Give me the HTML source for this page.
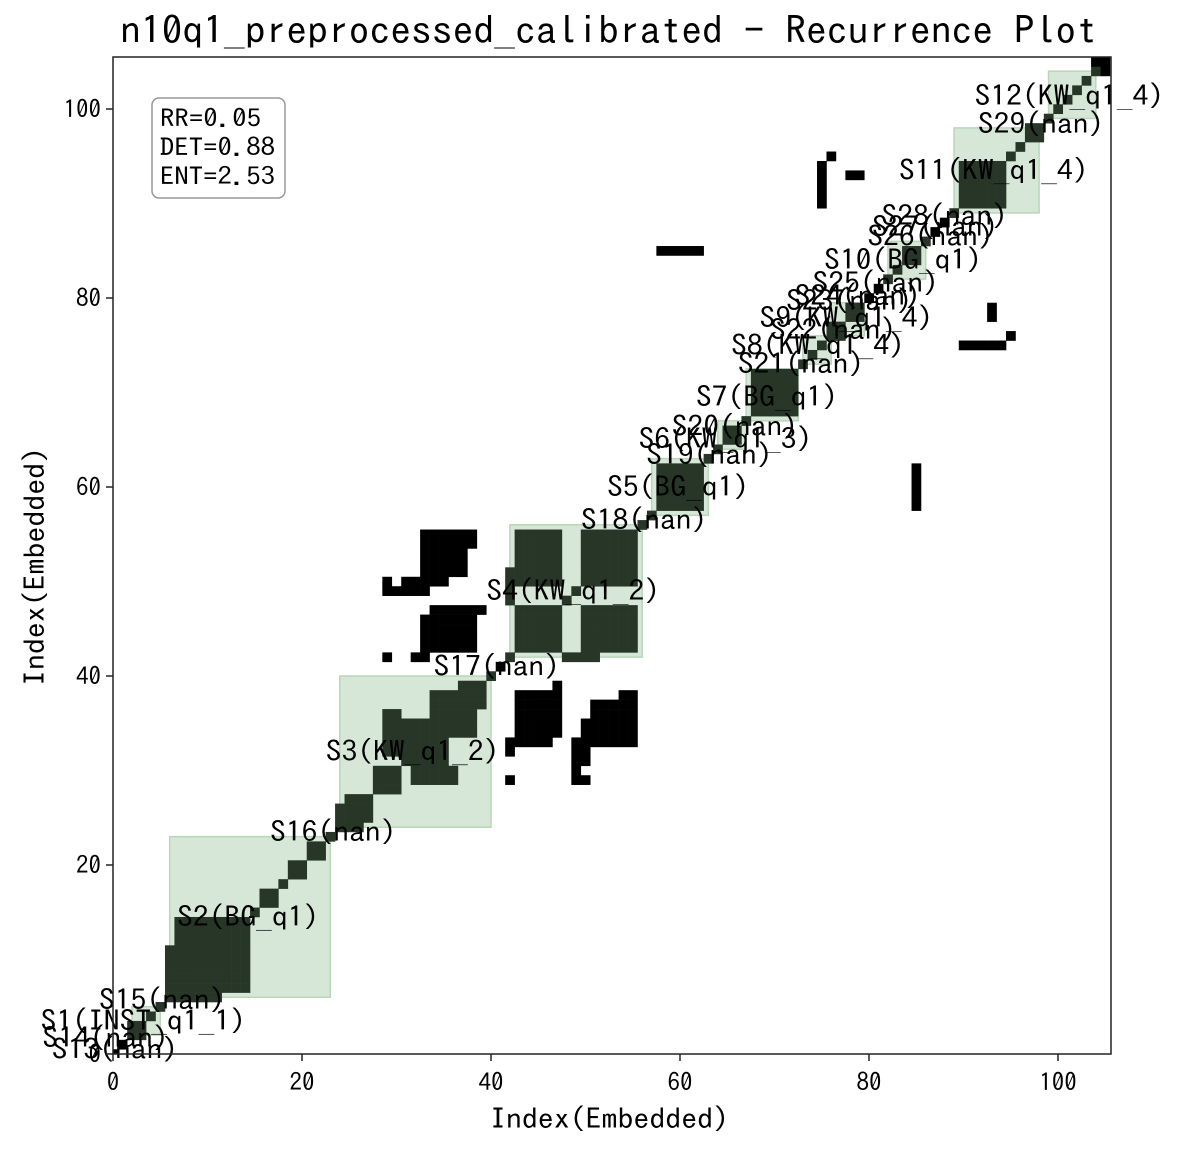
<!DOCTYPE html>
<html><head><meta charset="utf-8"><style>
body{margin:0;background:#fff;}
svg text{font-family:"IPAGothic","WenQuanYi Zen Hei","Liberation Sans",sans-serif;}
</style></head><body>
<svg id="chart" width="1187" height="1149" viewBox="0 0 1187 1149">
<rect width="1187" height="1149" fill="#fff"/>
<g id="boxes"></g>
<g id="cells"></g>
<g id="labels"></g>
<rect x="113" y="57" width="998" height="997" fill="none" stroke="#222" stroke-width="1.5"/>
<g id="ticks"></g>
<text x="120" y="44" font-size="38" textLength="977" lengthAdjust="spacingAndGlyphs">n10q1_preprocessed_calibrated - Recurrence Plot</text>
<text x="490" y="1129" font-size="28" textLength="239" lengthAdjust="spacingAndGlyphs">Index(Embedded)</text>
<text transform="translate(45,686) rotate(-90)" font-size="28" textLength="239" lengthAdjust="spacingAndGlyphs">Index(Embedded)</text>
<g>
<rect x="152" y="98" width="133" height="100" rx="7" fill="#fff" stroke="#999" stroke-width="1.5"/>
<text x="160" y="127" font-size="25" textLength="101" lengthAdjust="spacingAndGlyphs">RR=0.05</text>
<text x="160" y="156" font-size="25" textLength="115" lengthAdjust="spacingAndGlyphs">DET=0.88</text>
<text x="160" y="185" font-size="25" textLength="115" lengthAdjust="spacingAndGlyphs">ENT=2.53</text>
</g>
</svg>
<script>
const N = 106;
const diagBlocks = [[2,3],[7,14],[16,17],[19,20],[21,22],[25,27],[28,30],[31,35],[34,38],[37,39],[43,47],[50,55],[58,62],[65,66],[68,72],[76,77],[78,79],[84,85],[90,94],[97,98],[104,105]];
const offRects = [[6,6,7,11],[24,24,25,26],[32,36,29,30],[43,47,50,55],[33,38,54,55],[33,37,51,53],[29,29,49,50],[30,33,49,49],[31,35,50,50],[34,39,47,47],[33,38,43,46],[29,29,42,42],[32,33,42,42],[42,42,48,51],[85,85,58,62],[90,94,75,75],[95,95,76,76],[93,93,78,79]];
const segBoxes = [[2,5],[6,23],[24,40],[42,56],[57,63],[64,67],[67,72.5],[73,76],[76,79.5],[82,86],[89,98],[99,104]];
const labelText = ["S13(nan)","S14(nan)","S1(INST_q1_1)","S15(nan)","S2(BG_q1)","S16(nan)","S3(KW_q1_2)","S17(nan)","S4(KW_q1_2)","S18(nan)","S5(BG_q1)","S19(nan)","S6(KW_q1_3)","S20(nan)","S7(BG_q1)","S21(nan)","S8(KW_q1_4)","S22(nan)","S9(KW_q1_4)","S23(nan)","S24(nan)","S25(nan)","S10(BG_q1)","S26(nan)","S27(nan)","S28(nan)","S11(KW_q1_4)","S29(nan)","S12(KW_q1_4)"];
const labelX = [0.2,-0.8,3.2,5.2,14.3,23.3,31.7,40.6,48.7,56.2,59.8,63.1,64.8,65.8,69.2,72.8,74.6,76.2,77.6,77.9,78.8,80.7,83.6,86.5,87.0,88.0,93.2,98.2,101.2];
const labelY = [0.5,1.7,3.5,5.7,14.5,23.5,32.0,41.0,49.0,56.5,60.0,63.4,65.1,66.4,69.5,73.0,75.0,76.6,77.9,79.7,80.2,81.6,84.0,86.5,87.5,88.7,93.5,98.4,101.4];
const tickVals = [0,20,40,60,80,100];

const S = 9.45, X0 = 113, Y0 = 1054;
const sx = v => X0 + v*S;
const sy = v => Y0 - v*S;
const NS = "http://www.w3.org/2000/svg";
function mk(tag, attrs, parent){const e=document.createElementNS(NS,tag);for(const k in attrs)e.setAttribute(k,attrs[k]);parent.appendChild(e);return e;}

const M = [];
for(let i=0;i<N;i++){M.push(new Array(N).fill(0));M[i][i]=1;}
diagBlocks.forEach(b=>{for(let i=b[0];i<=b[1];i++)for(let j=b[0];j<=b[1];j++)M[i][j]=1;});
offRects.forEach(r=>{for(let c=r[0];c<=r[1];c++)for(let w=r[2];w<=r[3];w++){if(c<N&&w<N){M[w][c]=1;M[c][w]=1;}}});

const gB = document.getElementById('boxes');
segBoxes.forEach(b=>{
  const e = mk('rect',{x:sx(b[0]),y:sy(b[1]),width:(b[1]-b[0])*S,height:(b[1]-b[0])*S,fill:'#d7e7d7',stroke:'#b9d6b9','stroke-width':1.5},gB);
  
  
});
function inBox(i,j){return segBoxes.some(b=>i>=b[0]&&i<=b[1]&&j>=b[0]&&j<=b[1]);}
const gC = document.getElementById('cells');
for(let i=0;i<N;i++)for(let j=0;j<N;j++){
  if(!M[i][j])continue;
  let x0=Math.max(0,i-0.5), x1=Math.min(105.5,i+0.5), y0=Math.max(0,j-0.5), y1=Math.min(105.5,j+0.5);
  const e = mk('rect',{x:sx(x0),y:sy(y1),width:(x1-x0)*S+0.3,height:(y1-y0)*S+0.3,fill:inBox(i,j)?'#283628':'#000'},gC);
  
  
}
const gL = document.getElementById('labels');
labelText.forEach((t,k)=>{
  const w = t.length*15.8;
  const e = mk('text',{x:sx(labelX[k])-w/2,y:sy(labelY[k])+10,'font-size':28,textLength:w,lengthAdjust:'spacingAndGlyphs'},gL);
  e.textContent=t;
  
  
});
const gT = document.getElementById('ticks');
tickVals.forEach(v=>{
  mk('line',{x1:sx(v),x2:sx(v),y1:1054,y2:1061,stroke:'#222','stroke-width':1.5},gT);
  const tx = mk('text',{x:sx(v),y:1091,'text-anchor':'middle','font-size':25},gT);
  tx.textContent=v;
  
  
  mk('line',{x1:106,x2:113,y1:sy(v),y2:sy(v),stroke:'#222','stroke-width':1.5},gT);
  const ty = mk('text',{x:101,y:sy(v)+9,'text-anchor':'end','font-size':25},gT);
  ty.textContent=v;
  
  
});
</script>
</body></html>
